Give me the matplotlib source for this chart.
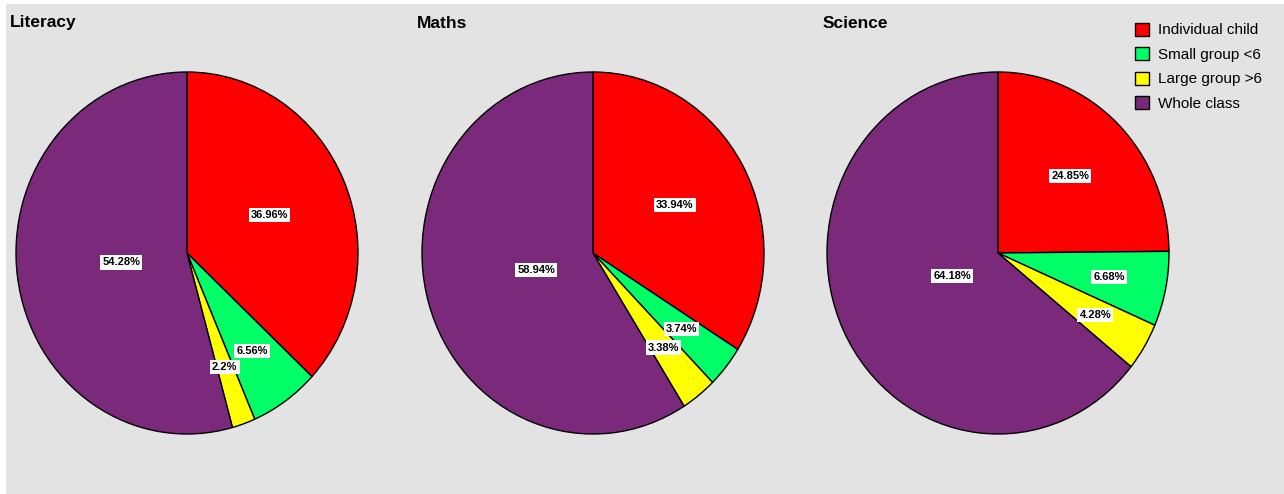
import numpy as np
import matplotlib
matplotlib.use("Agg")
import matplotlib.pyplot as plt
from matplotlib.patches import Patch, Rectangle

plt.rcParams['font.family'] = ['Liberation Sans', 'DejaVu Sans']

# ===============================
# DATA
# ===============================
subjects = ["Literacy", "Maths", "Science"]
groups = ["Individual child", "Small group <6", "Large group >6", "Whole class"]
literacy = [36.96, 6.56, 2.2, 54.28]
maths = [33.94, 3.74, 3.38, 58.94]
science = [24.85, 6.68, 4.28, 64.18]
colors = ["#ff0000", "#00ff66", "#ffff00", "#7b2a7b"]

W, H = 1284, 494
fig = plt.figure(figsize=(W / 100, H / 100), dpi=100)
fig.patches.append(Rectangle((6 / W, 0), 1 - 6 / W, 1 - 4 / H, transform=fig.transFigure,
                             facecolor="#e3e3e3", edgecolor="none", zorder=-10))

centers_x = [187, 593, 998]
title_x = [10, 417, 823]
rx, ry, cy = 171, 181, 241

for subj, vals, cx, tx in zip(subjects, [literacy, maths, science], centers_x, title_x):
    ax = fig.add_axes([(cx - rx) / W, (cy - ry) / H, 2 * rx / W, 2 * ry / H])
    wedges, _ = ax.pie(vals, colors=colors, startangle=90, counterclock=False,
                       wedgeprops=dict(edgecolor="black", linewidth=1.0))
    ax.set_aspect("auto")
    ax.set_xlim(-1, 1)
    ax.set_ylim(-1, 1)
    ax.axis("off")
    # labels at sector centroids
    total = sum(vals)
    start = 90.0
    for v in vals:
        half = np.radians(v / total * 360 / 2)
        mid = np.radians(start) - half
        r = 2 * np.sin(half) / (3 * half)
        ax.text(r * np.cos(mid), r * np.sin(mid), f"{v:g}%", ha="center", va="center",
                fontsize=8, fontweight="bold",
                bbox=dict(facecolor="white", edgecolor="none", pad=1.5))
        start -= v / total * 360
    fig.text(tx / W, 1 - 23 / H, subj, fontsize=12.5, fontweight="bold", va="center", ha="left")

handles = [Patch(facecolor=c, edgecolor="black", linewidth=1.0) for c in colors]
fig.legend(handles, groups, loc="upper left", bbox_to_anchor=(1127 / W, 1 - 15 / H),
           frameon=False, fontsize=11, handlelength=0.95, handleheight=0.95,
           handletextpad=0.6, labelspacing=0.63, borderpad=0)

plt.savefig("out.png", dpi=100)
